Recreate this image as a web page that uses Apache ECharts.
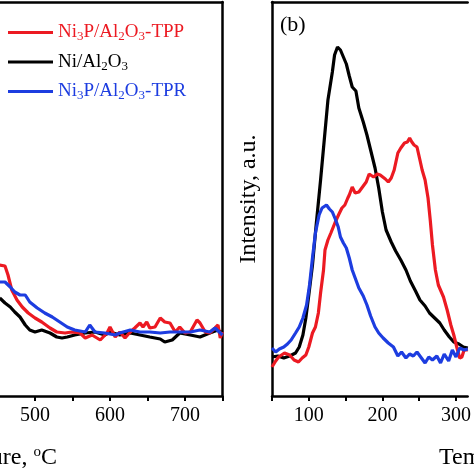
<!DOCTYPE html>
<html><head><meta charset="utf-8">
<script src="https://cdn.jsdelivr.net/npm/echarts@6/dist/echarts.min.js"></script>
<style>html,body{margin:0;padding:0;background:#fff}#c{width:474px;height:474px}</style>
</head><body><div id="c"></div>
<script>
// ---- data (temperature °C, intensity a.u.) ----
const seriesNames = ['Ni3P/Al2O3-TPP', 'Ni/Al2O3', 'Ni3P/Al2O3-TPR'];
const tickLabelsA = [500, 600, 700];
const tickValuesA = [500, 550, 600, 650, 700, 750];
const tickLabelsB = [100, 200, 300];
const tickValuesB = [50, 100, 150, 200, 250, 300];
const panelLabelB = '(b)';
const xTitle = 'Temperature, {sup|o}C';
const yTitleB = 'Intensity, a.u.';

// panel (a)
const aRed = [[453,131],[460,130],[464,121],[469,106],[476,96],[483,89],[491,83],[500,78],[509,74],[520,68],[529,64],[540,63],[549,64],[560,63],[567,58],[576,61],[587,56],[596,63],[600,69],[607,59],[613,64],[620,58],[627,64],[633,68],[640,73],[644,69],[649,74],[653,68],[660,69],[667,78],[673,74],[680,73],[687,64],[693,69],[700,63],[707,64],[716,76],[720,73],[727,64],[733,63],[740,68],[744,71],[747,58],[750,64]];
const aBlack = [[453,98],[460,93],[467,89],[473,84],[480,79],[487,71],[493,66],[500,64],[509,66],[520,63],[529,59],[536,58],[543,59],[553,61],[567,63],[580,64],[593,61],[600,64],[613,61],[627,63],[640,61],[653,59],[667,57],[673,54],[683,56],[693,63],[707,61],[720,59],[733,63],[744,66],[750,63]];
const aBlue = [[453,114],[460,114],[467,109],[473,104],[480,101],[487,101],[493,94],[503,88],[513,83],[523,79],[533,74],[543,69],[553,66],[567,64],[573,71],[580,64],[593,63],[607,61],[613,63],[627,66],[640,64],[653,64],[667,63],[680,64],[693,64],[707,64],[720,66],[733,64],[740,68],[750,61]];

// panel (b)
const bRed = [[50,29],[55,35],[59,39],[67,43],[74,41],[80,36],[86,34],[91,38],[96,41],[100,49],[105,63],[109,69],[113,83],[116,103],[120,126],[122,146],[126,156],[130,163],[136,174],[141,182],[145,188],[149,191],[153,198],[155,201],[159,209],[163,203],[168,204],[174,210],[178,214],[182,222],[188,219],[193,222],[197,221],[204,217],[208,214],[212,218],[216,226],[221,243],[225,248],[230,253],[234,254],[237,258],[240,254],[243,251],[247,249],[251,236],[254,226],[258,216],[262,198],[265,176],[268,151],[272,126],[276,111],[283,99],[288,86],[293,71],[297,61],[301,49],[305,38],[308,39],[311,46],[316,46]];
const bBlack = [[50,39],[58,40],[66,38],[74,40],[82,43],[87,49],[92,61],[96,78],[100,101],[105,131],[110,171],[116,216],[121,256],[126,296],[132,324],[135,341],[139,349],[143,346],[147,339],[151,332],[155,320],[159,309],[164,305],[168,288],[174,274],[179,261],[184,246],[190,228],[195,208],[200,184],[205,166],[212,154],[218,145],[225,136],[232,126],[238,115],[245,105],[251,96],[258,90],[264,83],[271,78],[278,73],[284,66],[291,59],[297,54],[304,52],[310,49],[316,48]];
const bBlue = [[50,48],[55,44],[60,47],[66,49],[71,52],[76,56],[82,63],[87,69],[92,78],[97,91],[101,111],[105,138],[109,163],[114,181],[118,188],[124,191],[128,187],[132,184],[136,177],[140,169],[143,159],[147,153],[151,148],[155,138],[159,126],[163,118],[168,108],[174,100],[179,91],[184,80],[190,69],[195,63],[201,58],[208,53],[215,49],[221,40],[226,44],[232,38],[237,42],[242,40],[247,44],[253,38],[258,33],[263,39],[268,36],[274,40],[279,33],[284,42],[290,35],[295,46],[300,39],[305,48],[311,46],[316,47]];

// visible window of each panel
const xRangeA = [453.33, 750];
const xRangeB = [50, 315.8];
const yRange = [0, 394];

// ---- styling ----
const FONT = "'Liberation Serif','Times New Roman','DejaVu Serif',serif";
const colors = ['#ec1a22', '#000000', '#1d3de0'];
const chart = echarts.init(document.getElementById('c'), null, {renderer: 'canvas'});
const AXIS_LINE = {show: true, onZero: false, lineStyle: {color: '#000', width: 2.5}};

function xAxisCfg(gridIndex, range, ticks, labels) {
  return {
    type: 'value', gridIndex, min: range[0], max: range[1], position: 'bottom',
    axisLine: AXIS_LINE,
    axisTick: {show: true, inside: false, length: 5, customValues: ticks, lineStyle: {color: '#000', width: 2}},
    splitLine: {show: false},
    axisLabel: {color: '#000', fontFamily: FONT, fontSize: 20, margin: 10, customValues: labels,
      formatter: v => String(v)}
  };
}
function topAxisCfg(gridIndex, range) {
  return {
    type: 'value', gridIndex, min: range[0], max: range[1], position: 'top',
    axisLine: AXIS_LINE, axisTick: {show: false}, axisLabel: {show: false}, splitLine: {show: false}
  };
}
function yAxisCfg(gridIndex, position, name) {
  return {
    type: 'value', gridIndex, min: yRange[0], max: yRange[1], position,
    axisLine: AXIS_LINE,
    axisTick: {show: false}, axisLabel: {show: false}, splitLine: {show: false},
    name: name, nameLocation: 'middle', nameGap: 11,
    nameTextStyle: {color: '#000', fontFamily: FONT, fontSize: 24}
  };
}
function lineSeries(name, idx, data, color) {
  return {
    name, type: 'line', xAxisIndex: idx, yAxisIndex: idx, data,
    showSymbol: false, symbol: 'none', smooth: false, clip: true,
    lineStyle: {color, width: 3.2}, itemStyle: {color}, animation: false
  };
}
const titleRich = {sup: {fontFamily: FONT, fontSize: 15, fill: '#000', padding: [0, 0, 11, 0]}};

const option = {
  backgroundColor: '#fff',
  animation: false,
  grid: [
    {left: 0, top: 2, width: 222.5, height: 394, show: false},
    {left: 272, top: 2, width: 202, height: 394, show: false}
  ],
  xAxis: [
    xAxisCfg(0, xRangeA, tickValuesA, tickLabelsA),
    xAxisCfg(1, xRangeB, tickValuesB, tickLabelsB),
    topAxisCfg(0, xRangeA),
    topAxisCfg(1, xRangeB)
  ],
  yAxis: [
    yAxisCfg(0, 'right', ''),
    yAxisCfg(1, 'left', yTitleB)
  ],
  legend: {
    orient: 'vertical', left: 3, top: 17, itemGap: 8,
    itemWidth: 45, itemHeight: 3, icon: 'rect',
    selectedMode: false,
    textStyle: {fontFamily: FONT, fontSize: 19, lineHeight: 21,
      rich: {s: {fontFamily: FONT, fontSize: 13, padding: [9, 0, 0, 0]}}},
    formatter: name => name.replace(/(\d)/g, '{s|$1}'),
    data: seriesNames.map((n, i) => ({name: n, itemStyle: {color: colors[i]}, textStyle: {color: colors[i]}}))
  },
  graphic: [
    {type: 'text', x: 280, y: 14, style: {text: panelLabelB, font: '22px ' + FONT, fill: '#000'}},
    {type: 'text', x: 57, y: 458, style: {text: xTitle, fontFamily: FONT, fontSize: 24, fill: '#000',
      align: 'right', verticalAlign: 'middle', rich: titleRich}},
    {type: 'text', x: 439, y: 458, style: {text: xTitle, fontFamily: FONT, fontSize: 24, fill: '#000',
      align: 'left', verticalAlign: 'middle', rich: titleRich}}
  ],
  series: [
    lineSeries(seriesNames[1], 0, aBlack, colors[1]),
    lineSeries(seriesNames[0], 0, aRed, colors[0]),
    lineSeries(seriesNames[2], 0, aBlue, colors[2]),
    lineSeries(seriesNames[1], 1, bBlack, colors[1]),
    lineSeries(seriesNames[0], 1, bRed, colors[0]),
    lineSeries(seriesNames[2], 1, bBlue, colors[2])
  ]
};
chart.setOption(option);
</script>
</body></html>
